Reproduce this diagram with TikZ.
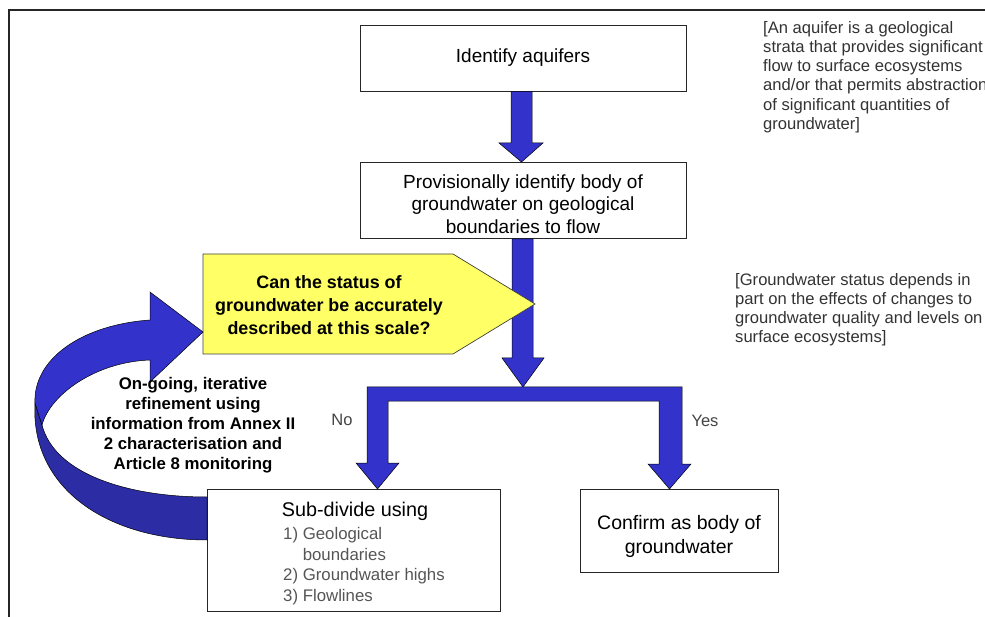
\documentclass[tikz,border=0pt]{standalone}
\usepackage{fontspec}
\setmainfont{Liberation Sans}
\usetikzlibrary{calc}
\definecolor{arrowblue}{HTML}{3333CC}
\definecolor{darkblue}{HTML}{2C2CA4}
\definecolor{qyellow}{HTML}{FFFF66}
\definecolor{notegray}{HTML}{333333}
\definecolor{itemgray}{HTML}{555555}
\begin{document}
\begin{tikzpicture}[x=1pt,y=-1pt,
  box/.style={draw=black!85, line width=0.9pt, fill=white, inner sep=0pt},
  barrow/.style={fill=arrowblue, draw=black, line width=0.5pt, line join=miter},
  maintext/.style={font=\fontsize{19}{22.5}\selectfont, align=center, inner sep=0pt},
  notetext/.style={font=\fontsize{16.6}{19.2}\selectfont, align=left, text=notegray, anchor=north west, inner sep=0pt},
  itemtext/.style={font=\fontsize{16.8}{20.7}\selectfont, align=left, text=itemgray, anchor=north west, inner sep=0pt},
  yesno/.style={font=\fontsize{16.5}{18}\selectfont, text=itemgray!80!black, inner sep=0pt},
]
\useasboundingbox (0,0) rectangle (985,617);
\fill[white] (0,0) rectangle (985,617);
\draw[line width=1.4pt, black!85] (9,617) -- (9,10) -- (985,10);

% boxes
\node[box, minimum width=326pt, minimum height=66pt] (aq) at (523,58) {};
\node[maintext] (aqtext) at (523,58) {Identify aquifers};
\node[box, minimum width=326pt, minimum height=76pt] (prov) at (523,200.5) {};
\node[maintext] (provtext) at (523,204) {Provisionally identify body of\\groundwater on geological\\boundaries to flow};
\node[box, minimum width=293pt, minimum height=122pt] (sub) at (353.5,550) {};
\node[box, minimum width=198pt, minimum height=83pt] (conf) at (679,530.5) {};
\node[maintext, font=\fontsize{19.5}{24}\selectfont] (conftext) at (679,536) {Confirm as body of\\groundwater};

% arrow aquifers -> provisional
\coordinate (t1) at (521.5,162);
\draw[barrow] ($(aq.south)+(-12,0)$) -- ($(aq.south)+(9,0)$) -- (532,143) -- (543,143) -- (t1) -- (499,143) -- (511,143) -- cycle;

% arrow provisional -> branch
\coordinate (bartop) at (523,387);
\draw[barrow] ($(prov.south)+(-11,0)$) -- ($(prov.south)+(10,0)$) -- (533,358) -- (544,358) -- (bartop) -- (502,358) -- (512,358) -- cycle;

% branch bar with No / Yes arrows
\coordinate (notip) at (377.5,489);
\coordinate (yestip) at (669.5,489);
\draw[barrow] (367,387) -- (682,387) -- (682,464) -- (691,464) -- (yestip) -- (648,464) -- (659,464)
  -- (659,401) -- (388,401) -- (388,463) -- (399,463) -- (notip) -- (356,463) -- (367,463) -- cycle;
\node[yesno] (no) at (342,420) {No};
\node[yesno] (yes) at (705,421) {Yes};

% question pentagon
\draw[fill=qyellow, draw=black!75, line width=0.7pt] (203,254) -- (453,254) -- (535,304) -- (453,354) -- (203,354) -- cycle;
\node[maintext, font=\bfseries\fontsize{17.9}{23}\selectfont] (q) at (329,305) {Can the status of\\groundwater be accurately\\described at this scale?};

% curved feedback arrow: lower (dark) part
\draw[fill=darkblue, draw=black, line width=0.5pt]
  (35,403) .. controls (30,490) and (110,540) .. (207,540) -- (207,497)
  .. controls (130,497) and (55,475) .. (42,425) -- cycle;
% upper part with head
\coordinate (fbtip) at (203,332);
\draw[fill=arrowblue, draw=black, line width=0.5pt]
  (fbtip) -- (150,382) -- (150,360) .. controls (95,362) and (50,395) .. (42,425)
  -- (35,403) .. controls (33,360) and (80,325) .. (150,320) -- (150,292) -- cycle;
\node[maintext, font=\bfseries\fontsize{16.8}{20}\selectfont] (loop) at (193,425) {On-going, iterative\\refinement using\\information from Annex II\\2 characterisation and\\Article 8 monitoring};

% sub-divide text
\node[maintext, font=\fontsize{19.8}{22}\selectfont] (subtitle) at (355,511) {Sub-divide using};
\node[itemtext] (items) at (283,527) {1) Geological\\\phantom{1) }boundaries\\2) Groundwater highs\\3) Flowlines};

% notes
\node[notetext] (note1) at (763,21) {[An aquifer is a geological\\strata that provides significant\\flow to surface ecosystems\\and/or that permits abstraction\\of significant quantities of\\groundwater]};
\node[notetext] (note2) at (735,273) {[Groundwater status depends in\\part on the effects of changes to\\groundwater quality and levels on\\surface ecosystems]};
\end{tikzpicture}
\end{document}
